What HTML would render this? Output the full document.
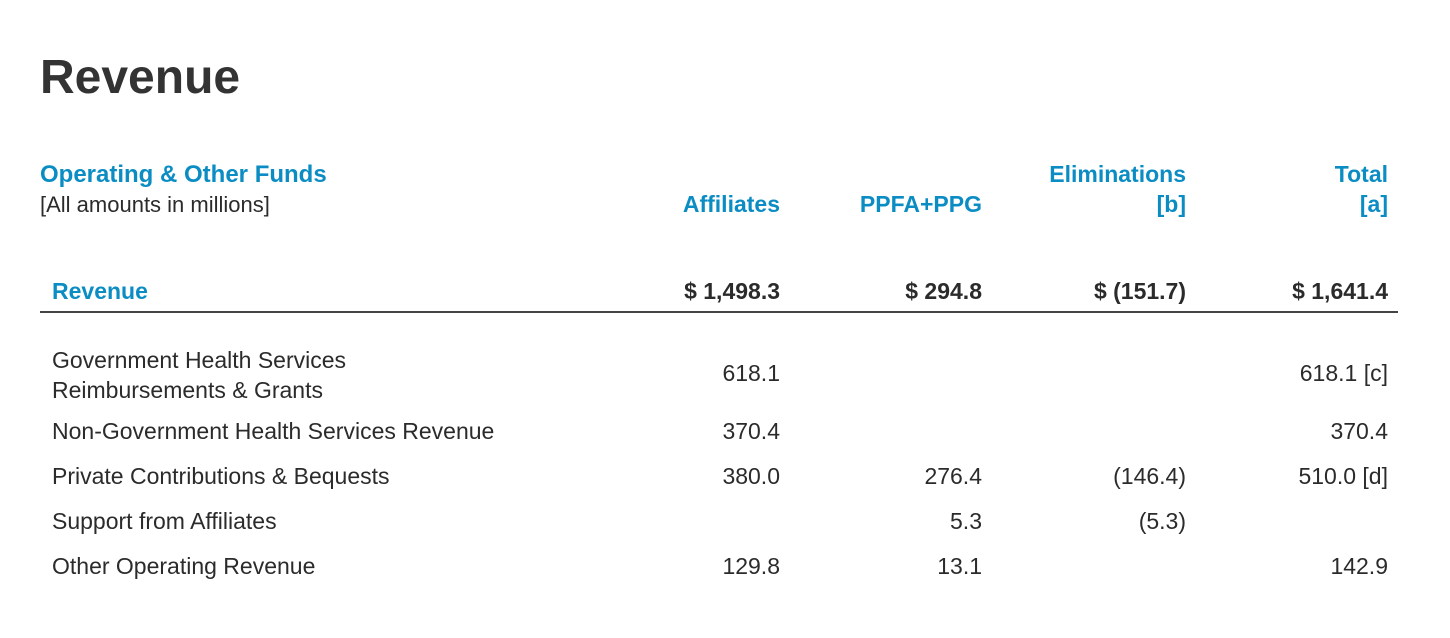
<!DOCTYPE html>
<html><head><meta charset="utf-8">
<style>
html,body{margin:0;padding:0;background:#fff;}
body{width:1450px;height:638px;position:relative;overflow:hidden;font-family:"Liberation Sans",sans-serif;color:#2b2b2b;}
.a{position:absolute;white-space:nowrap;}
.r{text-align:right;}
.blue{color:#0b8dc4;font-weight:bold;}
.t{font-size:23px;}
.b{font-weight:bold;}
</style></head><body>
<div class="a" style="left:40px;top:50px;font-size:48px;font-weight:bold;color:#333;">Revenue</div>

<div class="a blue" style="left:40px;top:161px;font-size:24px;">Operating &amp; Other Funds</div>
<div class="a t" style="left:40px;top:192px;font-size:22px;">[All amounts in millions]</div>

<div class="a blue r" style="right:670px;top:191px;font-size:23px;">Affiliates</div>
<div class="a blue r" style="right:468px;top:191px;font-size:23px;">PPFA+PPG</div>
<div class="a blue r" style="right:264px;top:159px;font-size:23px;line-height:30px;">Eliminations<br>[b]</div>
<div class="a blue r" style="right:62px;top:159px;font-size:23px;line-height:30px;">Total<br>[a]</div>

<div class="a blue" style="left:52px;top:278px;font-size:23px;">Revenue</div>
<div class="a r b t" style="right:670px;top:278px;">$ 1,498.3</div>
<div class="a r b t" style="right:468px;top:278px;">$ 294.8</div>
<div class="a r b t" style="right:264px;top:278px;">$ (151.7)</div>
<div class="a r b t" style="right:62px;top:278px;">$ 1,641.4</div>
<div class="a" style="left:40px;top:311px;width:1358px;height:2px;background:#444;"></div>

<div class="a t" style="left:52px;top:345px;line-height:30px;">Government Health Services<br>Reimbursements &amp; Grants</div>
<div class="a r t" style="right:670px;top:360px;">618.1</div>
<div class="a r t" style="right:62px;top:360px;">618.1 [c]</div>

<div class="a t" style="left:52px;top:418px;">Non-Government Health Services Revenue</div>
<div class="a r t" style="right:670px;top:418px;">370.4</div>
<div class="a r t" style="right:62px;top:418px;">370.4</div>

<div class="a t" style="left:52px;top:463px;">Private Contributions &amp; Bequests</div>
<div class="a r t" style="right:670px;top:463px;">380.0</div>
<div class="a r t" style="right:468px;top:463px;">276.4</div>
<div class="a r t" style="right:264px;top:463px;">(146.4)</div>
<div class="a r t" style="right:62px;top:463px;">510.0 [d]</div>

<div class="a t" style="left:52px;top:508px;">Support from Affiliates</div>
<div class="a r t" style="right:468px;top:508px;">5.3</div>
<div class="a r t" style="right:264px;top:508px;">(5.3)</div>

<div class="a t" style="left:52px;top:553px;">Other Operating Revenue</div>
<div class="a r t" style="right:670px;top:553px;">129.8</div>
<div class="a r t" style="right:468px;top:553px;">13.1</div>
<div class="a r t" style="right:62px;top:553px;">142.9</div>
</body></html>
